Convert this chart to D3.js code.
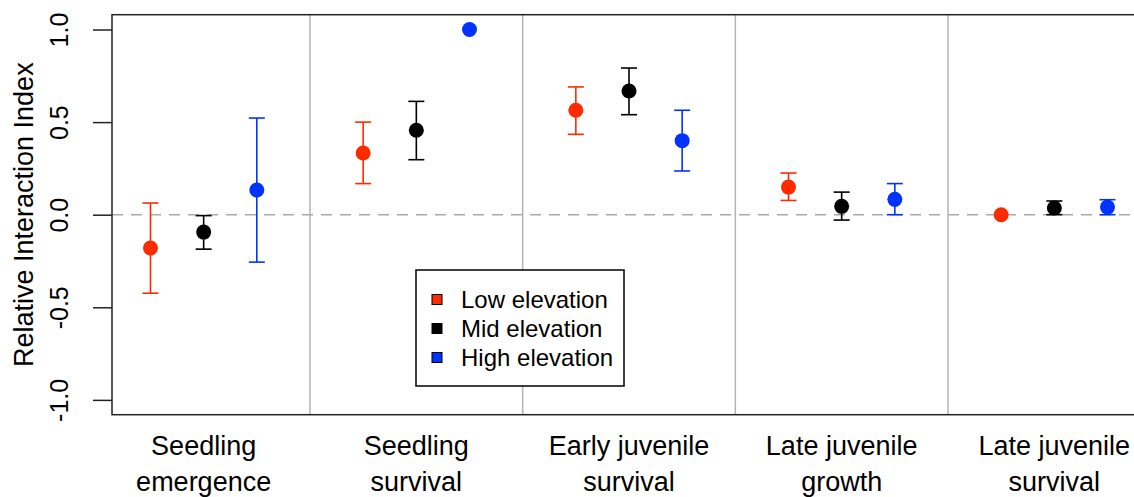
<!DOCTYPE html>
<html>
<head>
<meta charset="utf-8">
<script src="https://cdn.jsdelivr.net/npm/d3@7"></script>
<style>
  body { margin: 0; background: #fff; }
  svg { font-family: "Liberation Sans", Arial, Helvetica, sans-serif; }
</style>
</head>
<body>
<svg id="chart" width="1134" height="497"></svg>
<script>
// life stages (x categories), each split into display lines
const stages = [
  ["Seedling", "emergence"],
  ["Seedling", "survival"],
  ["Early juvenile", "survival"],
  ["Late juvenile", "growth"],
  ["Late juvenile", "survival"]
];
const seriesNames = ["Low elevation", "Mid elevation", "High elevation"];
const seriesColors = ["#ff2a00", "#000000", "#0033ff"];

// mean and CI per stage; null = no error bar drawn
const lowMean  = [-0.18, 0.333, 0.564, 0.149, 0.0];
const lowLower = [-0.424, 0.168, 0.434, 0.077, null];
const lowUpper = [0.063, 0.50, 0.69, 0.225, null];

const midMean  = [-0.094, 0.456, 0.668, 0.045, 0.036];
const midLower = [-0.186, 0.297, 0.54, -0.029, 0.0];
const midUpper = [-0.005, 0.612, 0.792, 0.122, 0.074];

const highMean  = [0.133, 1.0, 0.40, 0.083, 0.041];
const highLower = [-0.256, null, 0.236, 0.0, 0.0];
const highUpper = [0.522, null, 0.564, 0.168, 0.081];

const yTicks = [-1, -0.5, 0, 0.5, 1];
const offsets = [-0.25, 0, 0.25];

const svg = d3.select("#chart");

const x = d3.scaleLinear().domain([0.569, 5.431]).range([112, 1146]);
const y = d3.scaleLinear().domain([-1.08, 1.08]).range([414.7, 14.7]);

const points = [];
[[lowMean, lowLower, lowUpper], [midMean, midLower, midUpper], [highMean, highLower, highUpper]]
  .forEach(([m, lo, hi], s) => {
    m.forEach((v, i) => {
      points.push({ stage: i, series: s, mean: v, lower: lo[i], upper: hi[i] });
    });
  });

// separators between stages
svg.append("g")
  .selectAll("line").data(d3.range(1.5, 5, 1)).enter().append("line")
  .attr("x1", d => x(d)).attr("x2", d => x(d))
  .attr("y1", y(1.08)).attr("y2", y(-1.08))
  .attr("stroke", "#b3b3b3")
  .attr("stroke-width", 1.5);

// zero reference line
svg.append("line")
  .attr("x1", x(0.569)).attr("x2", 1134)
  .attr("y1", y(0)).attr("y2", y(0))
  .attr("stroke", "#aaaaaa")
  .attr("stroke-width", 1.5)
  .attr("stroke-dasharray", "11,8");

// error bars
const bars = svg.append("g")
  .selectAll("g").data(points.filter(p => p.lower !== null)).enter().append("g")
  .attr("stroke", p => seriesColors[p.series])
  .attr("stroke-width", 1.6);

bars.append("line")
  .attr("x1", p => x(p.stage + 1 + offsets[p.series]))
  .attr("x2", p => x(p.stage + 1 + offsets[p.series]))
  .attr("y1", p => y(p.lower)).attr("y2", p => y(p.upper));

["lower", "upper"].forEach(key => {
  bars.append("line")
    .attr("x1", p => x(p.stage + 1 + offsets[p.series]) - 8)
    .attr("x2", p => x(p.stage + 1 + offsets[p.series]) + 8)
    .attr("y1", p => y(p[key])).attr("y2", p => y(p[key]));
});

// points
svg.append("g")
  .selectAll("circle").data(points).enter().append("circle")
  .attr("cx", p => x(p.stage + 1 + offsets[p.series]))
  .attr("cy", p => y(p.mean))
  .attr("r", 7.5)
  .attr("fill", p => seriesColors[p.series]);

// plot box
svg.append("rect")
  .attr("x", 112).attr("y", y(1.08))
  .attr("width", x(5.431) - 112).attr("height", y(-1.08) - y(1.08))
  .attr("fill", "none")
  .attr("stroke", "#222")
  .attr("stroke-width", 1.5);

// y axis
const yAxis = svg.append("g")
  .attr("transform", "translate(112,0)")
  .call(d3.axisLeft(y).tickValues(yTicks).tickFormat(d => d.toFixed(1)).tickSize(19));
yAxis.select(".domain").remove();
yAxis.selectAll(".tick line").attr("stroke", "#222").attr("stroke-width", 1.5);
yAxis.selectAll(".tick text")
  .attr("x", null).attr("dy", null)
  .attr("transform", "translate(-44,0) rotate(-90)")
  .attr("text-anchor", "middle")
  .attr("fill", "#000")
  .style("font-size", "25px")
  .style("font-family", "Liberation Sans, Arial, sans-serif");

svg.append("text")
  .attr("transform", `translate(33,${(y(-1.08) + y(1.08)) / 2}) rotate(-90)`)
  .attr("text-anchor", "middle")
  .style("font-size", "27px")
  .text("Relative Interaction Index");

// x category labels
const xLabels = svg.append("g")
  .selectAll("text").data(stages).enter().append("text")
  .attr("text-anchor", "middle")
  .style("font-size", "27px");
xLabels.each((lines, i, els) => {
  const t = d3.select(els[i]);
  lines.forEach((line, j) => {
    t.append("tspan")
      .attr("x", x(i + 1))
      .attr("y", 455 + j * 36)
      .text(line);
  });
});

// legend
const legend = svg.append("g");
legend.append("rect")
  .attr("x", 416).attr("y", 270)
  .attr("width", 208).attr("height", 116)
  .attr("fill", "#fff")
  .attr("stroke", "#000")
  .attr("stroke-width", 1.5);
const items = legend.selectAll("g").data(seriesNames).enter().append("g")
  .attr("transform", (d, i) => `translate(437,${299.5 + i * 29})`);
items.append("rect")
  .attr("x", -5).attr("y", -5)
  .attr("width", 10).attr("height", 10)
  .attr("fill", (d, i) => seriesColors[i])
  .attr("stroke", "#000")
  .attr("stroke-width", 1);
items.append("text")
  .attr("x", 24).attr("y", 0)
  .attr("dy", "0.35em")
  .style("font-size", "24px")
  .text(d => d);
</script>
</body>
</html>
